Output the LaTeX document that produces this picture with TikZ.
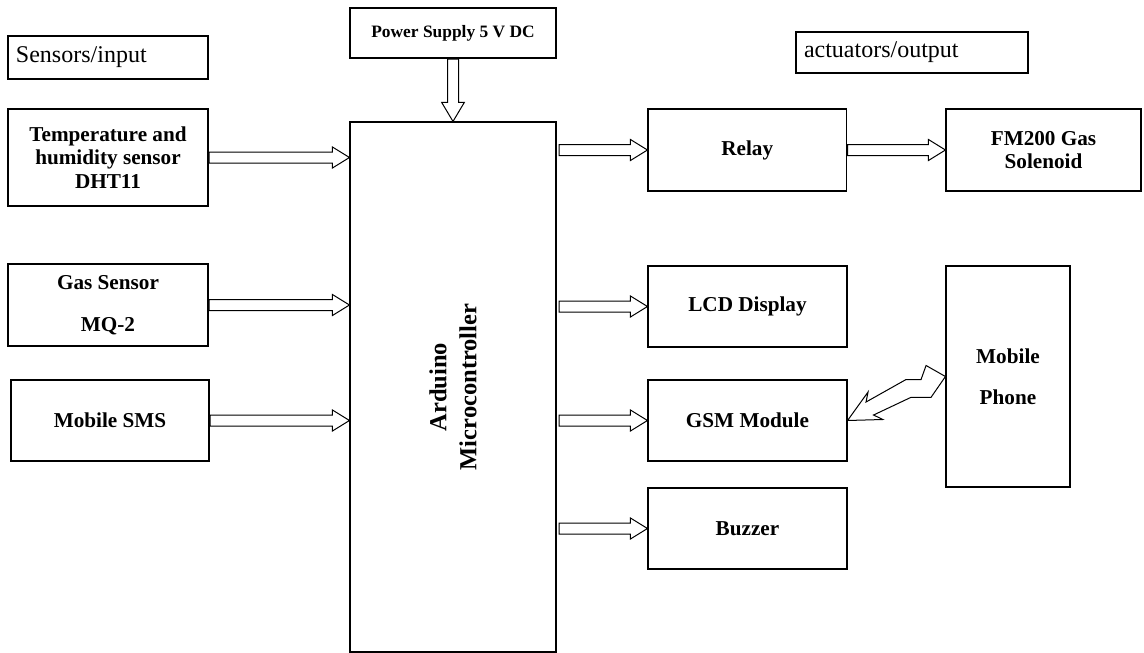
\documentclass[tikz,border=0pt]{standalone}
\usepackage{fontspec}
\setmainfont{Liberation Serif}
\usetikzlibrary{calc}
\newcommand\lblfont{\fontsize{21.2}{23.3}\selectfont\bfseries}
\newcommand\hdrfont{\fontsize{24}{28}\selectfont}
\newcommand\psfont{\fontsize{17.4}{20}\selectfont\bfseries}
\newcommand\ardfont{\fontsize{24.5}{30}\selectfont\bfseries}
\tikzset{
  box/.style={draw=black, line width=1.1pt, rectangle, inner sep=0pt, align=center, font=\lblfont},
  hdr/.style={box, font=\hdrfont, align=left},
  fat/.style={draw=black, fill=white, line width=1pt, line join=miter},
}
\newcommand\harr[2]{\draw[fat] let \p1=(#1), \p2=(#2) in
  (\x1+0.6pt,\y1+5.5pt) -- (\x2-17pt,\y1+5.5pt) -- (\x2-17pt,\y1+10.5pt) -- (\x2,\y1)
  -- (\x2-17pt,\y1-10.5pt) -- (\x2-17pt,\y1-5.5pt) -- (\x1+0.6pt,\y1-5.5pt) -- cycle;}
\begin{document}
\begin{tikzpicture}[x=1pt,y=-1pt]
\fill[white] (0,0) rectangle (1144,653);
\useasboundingbox (0,0) rectangle (1144,653);

% headers
\node[hdr, minimum width=200, minimum height=43, text width=184] (sens) at (108,57.5) {Sensors/input};
\node[hdr, minimum width=232, minimum height=41, text width=216] (act) at (912,52.5) {actuators/output};

% inputs
\node[box, minimum width=200, minimum height=97] (temp) at (108,157.5) {Temperature and\\humidity sensor\\DHT11};
\node[box, minimum width=200, minimum height=82] (gas) at (108,305) {Gas Sensor\\[19pt]MQ-2};
\node[box, minimum width=198, minimum height=81] (sms) at (110,420.5) {Mobile SMS};

% power and controller
\node[box, font=\psfont, minimum width=206, minimum height=50] (ps) at (453,33) {Power Supply 5 V DC};
\node[box, minimum width=206, minimum height=530] (ard) at (453,387) {};
\node[rotate=90, font=\ardfont, align=center, inner sep=0pt] (ardtxt) at (ard.center) {Arduino\\Microcontroller};

% outputs
\node[box, minimum width=198.5, minimum height=82] (relay) at (747.25,150) {Relay};
\node[box, minimum width=195, minimum height=82] (fm) at (1043.5,150) {FM200 Gas\\Solenoid};
\node[box, minimum width=199, minimum height=81] (lcd) at (747.5,306.5) {LCD Display};
\node[box, minimum width=199, minimum height=81] (gsm) at (747.5,420.5) {GSM Module};
\node[box, minimum width=199, minimum height=81] (buzz) at (747.5,528.5) {Buzzer};
\node[box, minimum width=124, minimum height=221] (phone) at (1008,376.5) {Mobile\\[18pt]Phone};

% power arrow
\draw[fat] let \p1=(ps.south), \p2=(ard.north) in
  (\x1-5.5pt,\y1-0.6pt) -- (\x1-5.5pt,\y2+19pt) -- (\x1-11.3pt,\y2+19pt) -- (\x1,\y2)
  -- (\x1+11.3pt,\y2+19pt) -- (\x1+5.5pt,\y2+19pt) -- (\x1+5.5pt,\y1-0.6pt) -- cycle;

% input arrows
\harr{temp.east}{ard.west |- temp.east}
\harr{gas.east}{ard.west |- gas.east}
\harr{sms.east}{ard.west |- sms.east}

% output arrows
\harr{$(ard.east |- relay.west)+(2,0)$}{relay.west}
\harr{$(ard.east |- lcd.west)+(2,0)$}{lcd.west}
\harr{$(ard.east |- gsm.west)+(2,0)$}{gsm.west}
\harr{$(ard.east |- buzz.west)+(2,0)$}{buzz.west}
\harr{relay.east}{fm.west |- relay.east}

% wireless link phone -> GSM
\draw[fat] (gsm.east) -- ($(gsm.east)+(20.5,-28.5)$) -- ($(gsm.east)+(18.5,-18.5)$)
  -- ($(gsm.east)+(58.5,-41)$) -- ($(gsm.east)+(73.5,-41)$) -- ($(gsm.east)+(78.5,-55)$)
  -- (phone.west) -- ($(gsm.east)+(83.5,-23.2)$) -- ($(gsm.east)+(63.5,-23.2)$)
  -- ($(gsm.east)+(26,-5.5)$) -- ($(gsm.east)+(35.2,-1)$) -- cycle;
\end{tikzpicture}
\end{document}
